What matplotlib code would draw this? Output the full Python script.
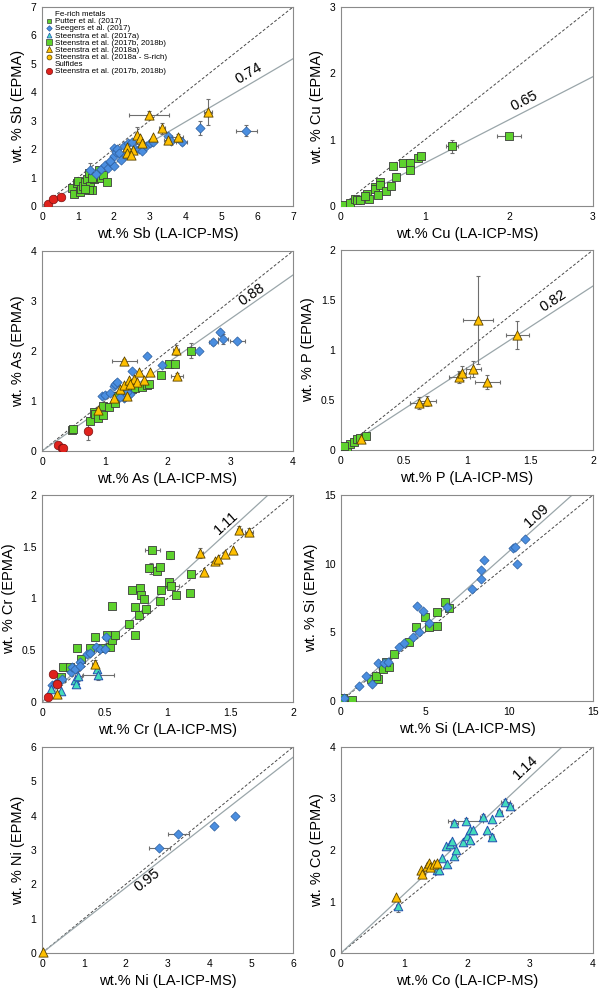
import numpy as np
import matplotlib.pyplot as plt
from matplotlib.lines import Line2D
from matplotlib.ticker import FuncFormatter

plt.rcParams['font.family'] = ['Liberation Sans', 'DejaVu Sans']

GREEN = '#5ed22d'
BLUE = '#4a8ee0'
TEAL = '#44dcbc'
ORANGE = '#ffc000'
RED = '#e0221c'

# ---- Sb ----
sb_red_x = [0.18, 0.32, 0.54]
sb_red_y = [0.07, 0.23, 0.33]
sb_green_x = [0.85, 0.88, 0.97, 1.0, 1.05, 1.1, 1.15, 1.2, 1.25, 1.3, 1.35, 1.4, 1.45,
              1.5, 1.6, 1.65, 1.7, 1.8, 1.3, 1.2, 1.4]
sb_green_y = [0.62, 0.42, 0.82, 0.88, 0.48, 0.6, 0.72, 0.85, 0.95, 1.15, 0.7, 0.58, 0.95,
              1.05, 1.25, 1.0, 1.1, 0.85, 0.55, 0.6, 1.0]
sb_blue_x = [1.35, 1.5, 1.65, 1.75, 1.85, 1.9, 2.0, 2.0, 2.05, 2.1, 2.15, 2.2, 2.3, 2.35,
             2.4, 2.5, 2.6, 2.7, 2.8, 2.9, 3.0, 3.1, 3.5, 3.6, 3.9, 4.4, 5.7, 2.0, 1.9]
sb_blue_y = [1.25, 1.12, 1.3, 1.45, 1.35, 1.55, 1.75, 2.05, 1.9, 2.0, 1.85, 1.62, 2.1, 1.8,
             2.2, 2.25, 2.0, 2.0, 1.95, 2.1, 2.2, 2.25, 2.45, 2.3, 2.25, 2.75, 2.65, 1.4, 1.6]
sb_orange_x = [2.98, 4.63, 3.35, 2.64, 2.72, 2.8, 3.1, 3.5, 3.78, 2.38, 2.55, 2.36, 2.47]
sb_orange_y = [3.2, 3.31, 2.73, 2.49, 2.4, 2.2, 2.41, 2.32, 2.43, 2.08, 1.97, 1.85, 1.8]
sb_err_x = [2.98, 4.63, 5.7, 4.4, 3.9, 2.64, 3.35, 3.78, 3.5, 1.35, 2.4, 3.0]
sb_err_y = [3.2, 3.31, 2.65, 2.75, 2.25, 2.49, 2.73, 2.43, 2.32, 1.25, 2.2, 2.2]
sb_err_xe = [0.55, 0.12, 0.3, 0.05, 0.15, 0.05, 0.08, 0.15, 0.1, 0.05, 0.05, 0.05]
sb_err_ye = [0.15, 0.45, 0.2, 0.25, 0.12, 0.3, 0.2, 0.12, 0.15, 0.25, 0.1, 0.1]

# ---- Cu ----
cu_green_x = [0.01, 0.03, 0.11, 0.17, 0.19, 0.23, 0.31, 0.33, 0.4, 0.41, 0.46, 0.47, 0.44,
              0.53, 0.59, 0.62, 0.66, 0.74, 0.82, 0.82, 0.92, 0.95, 1.32, 2.0, 0.29]
cu_green_y = [0.0, 0.01, 0.05, 0.1, 0.09, 0.09, 0.18, 0.11, 0.29, 0.25, 0.36, 0.31, 0.16,
              0.23, 0.3, 0.6, 0.44, 0.65, 0.65, 0.55, 0.73, 0.76, 0.9, 1.06, 0.15]
cu_err_x = [1.32, 2.0, 0.62, 0.66, 0.82]
cu_err_y = [0.9, 1.06, 0.6, 0.44, 0.65]
cu_err_xe = [0.07, 0.14, 0.02, 0.03, 0.02]
cu_err_ye = [0.1, 0.03, 0.04, 0.05, 0.06]

# ---- As ----
as_red_x = [0.26, 0.32, 0.34, 0.74]
as_red_y = [0.13, 0.07, 0.06, 0.4]
as_green_x = [0.48, 0.49, 0.77, 0.83, 0.85, 0.9, 0.97, 0.97, 1.06, 1.17, 1.2, 1.35, 1.43,
              1.48, 1.59, 1.67, 1.71, 1.89, 2.02, 2.12, 2.38]
as_green_y = [0.43, 0.44, 0.6, 0.79, 0.75, 0.67, 0.73, 0.9, 0.88, 0.97, 1.1, 1.17, 1.23,
              1.25, 1.27, 1.31, 1.33, 1.52, 1.74, 1.73, 2.0]
as_blue_x = [0.95, 1.0, 1.09, 1.14, 1.17, 1.2, 1.31, 1.4, 1.43, 1.68, 1.92, 2.5, 2.73, 2.84,
             2.88, 3.11, 1.25, 1.35]
as_blue_y = [1.09, 1.11, 1.17, 1.29, 1.34, 1.37, 1.05, 1.15, 1.6, 1.9, 1.72, 1.99, 2.17,
             2.37, 2.24, 2.2, 1.08, 1.19]
as_orange_x = [1.31, 2.14, 2.15, 0.89, 1.14, 1.36, 1.25, 1.31, 1.38, 1.46, 1.55, 1.51,
               1.63, 1.72, 1.4]
as_orange_y = [1.79, 2.02, 1.5, 0.83, 1.05, 1.1, 1.23, 1.31, 1.42, 1.44, 1.57, 1.39,
               1.42, 1.57, 1.33]
as_err_x = [1.31, 2.14, 2.15, 0.74, 2.38, 2.73, 2.88, 3.11, 2.84, 1.68]
as_err_y = [1.79, 2.02, 1.5, 0.4, 2.0, 2.17, 2.24, 2.2, 2.37, 1.9]
as_err_xe = [0.2, 0.05, 0.1, 0.02, 0.04, 0.07, 0.08, 0.12, 0.03, 0.02]
as_err_ye = [0.04, 0.1, 0.05, 0.18, 0.15, 0.06, 0.1, 0.04, 0.05, 0.03]

# ---- P ----
p_green_x = [0.01, 0.02, 0.05, 0.07, 0.1, 0.13, 0.15, 0.2, 0.02]
p_green_y = [0.01, 0.02, 0.03, 0.06, 0.08, 0.11, 0.12, 0.14, 0.04]
p_orange_x = [0.16, 0.62, 0.68, 0.94, 0.96, 1.05, 1.16, 1.09, 1.4]
p_orange_y = [0.11, 0.47, 0.49, 0.73, 0.77, 0.81, 0.68, 1.3, 1.15]
p_orange_xe = [0.02, 0.07, 0.07, 0.08, 0.03, 0.06, 0.1, 0.12, 0.09]
p_orange_ye = [0.02, 0.06, 0.05, 0.06, 0.07, 0.08, 0.07, 0.44, 0.14]

# ---- Cr ----
cr_red_x = [0.05, 0.09, 0.12]
cr_red_y = [0.05, 0.27, 0.17]
cr_green_x = [0.17, 0.22, 0.15, 0.28, 0.31, 0.38, 0.42, 0.48, 0.52, 0.54, 0.56, 0.58, 0.56,
              0.69, 0.72, 0.74, 0.74, 0.77, 0.78, 0.79, 0.81, 0.83, 0.85, 0.88, 0.92, 0.94,
              0.94, 0.95, 1.01, 1.02, 1.03, 1.07, 1.18, 1.19]
cr_green_y = [0.34, 0.34, 0.24, 0.52, 0.42, 0.52, 0.63, 0.52, 0.65, 0.53, 0.6, 0.65, 0.93,
              0.75, 1.08, 0.92, 0.65, 0.84, 1.1, 1.03, 1.0, 0.9, 1.29, 1.47, 1.27, 1.3,
              0.98, 1.08, 1.16, 1.42, 1.12, 1.03, 1.05, 1.24]
cr_blue_x = [0.08, 0.11, 0.16, 0.23, 0.24, 0.26, 0.3, 0.3, 0.36, 0.38, 0.43, 0.46, 0.5, 0.51]
cr_blue_y = [0.16, 0.18, 0.22, 0.29, 0.34, 0.32, 0.39, 0.35, 0.46, 0.47, 0.53, 0.51, 0.51, 0.63]
cr_teal_x = [0.15, 0.26, 0.27, 0.29, 0.44, 0.45, 0.07]
cr_teal_y = [0.11, 0.21, 0.17, 0.25, 0.32, 0.26, 0.13]
cr_orange_x = [0.12, 0.42, 1.26, 1.29, 1.38, 1.4, 1.46, 1.52, 1.57, 1.65]
cr_orange_y = [0.08, 0.37, 1.44, 1.26, 1.36, 1.38, 1.43, 1.47, 1.66, 1.64]
cr_err_x = [0.88, 0.45, 1.02, 1.26, 0.87, 1.57, 1.65, 0.42, 0.29, 1.04]
cr_err_y = [1.47, 0.26, 1.42, 1.44, 1.29, 1.66, 1.64, 0.37, 0.25, 1.12]
cr_err_xe = [0.06, 0.12, 0.02, 0.02, 0.03, 0.02, 0.03, 0.02, 0.03, 0.05]
cr_err_ye = [0.03, 0.05, 0.04, 0.05, 0.05, 0.04, 0.04, 0.04, 0.05, 0.03]

# ---- Si ----
si_green_x = [0.06, 0.65, 0.12, 1.78, 2.18, 2.1, 2.5, 2.83, 2.7, 3.13, 4.02, 4.48, 5.0, 5.21,
              5.7, 5.74, 6.2, 6.4]
si_green_y = [0.07, 0.07, 0.2, 1.58, 1.58, 1.82, 2.3, 2.45, 2.86, 3.42, 4.27, 5.41, 6.09,
              5.41, 5.48, 6.46, 7.23, 6.8]
si_blue_x = [0.2, 1.05, 1.5, 1.84, 2.2, 2.53, 2.77, 3.43, 3.76, 4.28, 4.55, 4.67, 4.91, 5.21,
             6.3, 7.78, 8.32, 8.32, 8.51, 10.26, 10.36, 10.46, 10.97]
si_blue_y = [0.19, 1.09, 1.82, 1.24, 2.79, 2.79, 2.86, 3.91, 4.25, 4.64, 6.92, 5.0, 6.55, 5.7,
             6.87, 8.13, 8.86, 9.54, 10.27, 11.12, 11.24, 9.95, 11.77]

# ---- Ni ----
ni_blue_x = [2.8, 3.26, 4.1, 4.61]
ni_blue_y = [3.06, 3.48, 3.71, 4.0]
ni_blue_xe = [0.25, 0.25, 0.03, 0.03]
ni_blue_ye = [0.05, 0.05, 0.03, 0.03]
ni_orange_x = [0.02]
ni_orange_y = [0.02]

# ---- Co ----
co_orange_x = [0.87, 1.27, 1.28, 1.36, 1.4, 1.42, 1.47, 1.52]
co_orange_y = [1.09, 1.61, 1.53, 1.69, 1.74, 1.67, 1.72, 1.74]
co_teal_x = [0.9, 1.52, 1.56, 1.61, 1.69, 1.66, 1.73, 1.76, 1.79, 1.83, 1.8, 1.94, 1.98, 2.0,
             2.04, 2.04, 2.09, 2.25, 2.32, 2.39, 2.39, 2.51, 2.61, 2.68]
co_teal_y = [0.92, 1.62, 1.61, 1.85, 1.72, 2.07, 2.12, 2.17, 1.88, 2.0, 2.52, 2.15, 2.57, 2.28,
             2.38, 2.2, 2.38, 2.64, 2.39, 2.26, 2.6, 2.73, 2.94, 2.86]
co_err_x = [1.8, 1.98, 2.61, 2.68, 2.39, 0.9, 2.25, 2.51]
co_err_y = [2.52, 2.57, 2.94, 2.86, 2.26, 0.92, 2.64, 2.73]
co_err_xe = [0.05, 0.28, 0.07, 0.05, 0.04, 0.03, 0.04, 0.04]
co_err_ye = [0.06, 0.05, 0.05, 0.05, 0.05, 0.12, 0.05, 0.05]

elements = ['Sb', 'Cu', 'As', 'P', 'Cr', 'Si', 'Ni', 'Co']
limits = [7, 3, 4, 2, 2, 15, 6, 4]
steps = [1, 1, 1, 0.5, 0.5, 5, 1, 1]
slopes = [0.74, 0.65, 0.88, 0.82, 1.11, 1.09, 0.95, 1.14]
slope_lbl_x = [5.75, 2.18, 3.34, 1.68, 1.47, 11.64, 2.52, 2.93]
slope_lbl_y = [4.66, 1.59, 3.13, 1.49, 1.73, 13.54, 2.13, 3.61]

sq = dict(marker='s', s=34, c=GREEN, edgecolors='#3c3c3c', linewidths=0.6, zorder=3)
dm = dict(marker='D', s=22, c=BLUE, edgecolors='#2c5e9e', linewidths=0.5, zorder=4)
tt = dict(marker='^', s=38, c=TEAL, edgecolors='#2450b0', linewidths=0.7, zorder=5)
ot = dict(marker='^', s=44, c=ORANGE, edgecolors='#5a4200', linewidths=0.6, zorder=6)
rc = dict(marker='o', s=38, c=RED, edgecolors='#7a1010', linewidths=0.5, zorder=7)

positions = [
    [42 / 600, 1 - 206 / 992, 251 / 600, 199 / 992],
    [341 / 600, 1 - 206 / 992, 252 / 600, 199 / 992],
    [42 / 600, 1 - 451 / 992, 251 / 600, 200 / 992],
    [341 / 600, 1 - 450 / 992, 252 / 600, 200 / 992],
    [42 / 600, 1 - 702 / 992, 251 / 600, 207 / 992],
    [341 / 600, 1 - 701 / 992, 252 / 600, 206 / 992],
    [42 / 600, 1 - 953 / 992, 251 / 600, 206 / 992],
    [341 / 600, 1 - 953 / 992, 252 / 600, 206 / 992],
]

fig = plt.figure(figsize=(6, 9.92), dpi=100)
axes = [fig.add_axes(p) for p in positions]


def errs(ax, x, y, xe, ye):
    ax.errorbar(x, y, xerr=xe, yerr=ye, fmt='none', ecolor='#6e6e6e',
                elinewidth=0.8, capsize=1.5, capthick=0.8, zorder=2)


def setup(ax, i):
    el = elements[i]
    lim = limits[i]
    ax.set_xlim(0, lim)
    ax.set_ylim(0, lim)
    ticks = np.arange(0, lim + steps[i] / 2, steps[i])
    ax.set_xticks(ticks)
    ax.set_yticks(ticks)
    fmt = FuncFormatter(lambda v, p: '{:g}'.format(v))
    ax.xaxis.set_major_formatter(fmt)
    ax.yaxis.set_major_formatter(fmt)
    ax.tick_params(length=0, labelsize=7.5, pad=4)
    for s in ax.spines.values():
        s.set_color('#8a8a8a')
        s.set_linewidth(0.8)
    ax.set_xlabel(f'wt.% {el} (LA-ICP-MS)', fontsize=10.5, labelpad=4)
    ax.set_ylabel(f'wt. % {el} (EPMA)', fontsize=10.5, labelpad=4)
    ax.plot([0, lim], [0, lim], color='#4a4a4a', lw=0.7, ls=(0, (3, 2)), zorder=1)
    xs = np.array([0, lim])
    ax.plot(xs, slopes[i] * xs, color='#9aa6aa', lw=0.9, zorder=1)
    ang = np.degrees(np.arctan(slopes[i]))
    ax.text(slope_lbl_x[i], slope_lbl_y[i], f'{slopes[i]:.2f}', fontsize=10.5,
            rotation=ang, transform_rotates_text=True, rotation_mode='anchor',
            ha='center', va='center', zorder=8)


for i, ax in enumerate(axes):
    setup(ax, i)

# Sb
ax = axes[0]
errs(ax, sb_err_x, sb_err_y, sb_err_xe, sb_err_ye)
ax.scatter(sb_blue_x, sb_blue_y, **dm)
ax.scatter(sb_green_x, sb_green_y, **sq)
ax.scatter(sb_orange_x, sb_orange_y, **ot)
ax.scatter(sb_red_x, sb_red_y, **rc)

handles = [
    Line2D([], [], ls='none', label='Fe-rich metals'),
    Line2D([], [], ls='none', marker='s', ms=3.5, mfc=GREEN, mec='#3c3c3c', mew=0.5, label='Putter et al. (2017)'),
    Line2D([], [], ls='none', marker='D', ms=2.8, mfc=BLUE, mec='#2c5e9e', mew=0.5, label='Seegers et al. (2017)'),
    Line2D([], [], ls='none', marker='^', ms=3.5, mfc=TEAL, mec='#2450b0', mew=0.5, label='Steenstra et al. (2017a)'),
    Line2D([], [], ls='none', marker='s', ms=4.5, mfc=GREEN, mec='#3c3c3c', mew=0.5, label='Steenstra et al. (2017b, 2018b)'),
    Line2D([], [], ls='none', marker='^', ms=4.5, mfc=ORANGE, mec='#5a4200', mew=0.5, label='Steenstra et al. (2018a)'),
    Line2D([], [], ls='none', marker='o', ms=3.5, mfc=ORANGE, mec='#5a4200', mew=0.5, label='Steenstra et al. (2018a - S-rich)'),
    Line2D([], [], ls='none', label='Sulfides'),
    Line2D([], [], ls='none', marker='o', ms=4.5, mfc=RED, mec='#7a1010', mew=0.5, label='Steenstra et al. (2017b, 2018b)'),
]
ax.legend(handles=handles, loc='upper left', bbox_to_anchor=(0.0, 1.0), frameon=False,
          fontsize=5.8, handlelength=0.8, handletextpad=0.3, labelspacing=0.0,
          handleheight=0.5, borderaxespad=0.3, borderpad=0.2)

# Cu
ax = axes[1]
errs(ax, cu_err_x, cu_err_y, cu_err_xe, cu_err_ye)
ax.scatter(cu_green_x, cu_green_y, **sq)

# As
ax = axes[2]
errs(ax, as_err_x, as_err_y, as_err_xe, as_err_ye)
ax.scatter(as_blue_x, as_blue_y, **dm)
ax.scatter(as_green_x, as_green_y, **sq)
ax.scatter(as_orange_x, as_orange_y, **ot)
ax.scatter(as_red_x, as_red_y, **rc)

# P
ax = axes[3]
errs(ax, p_orange_x, p_orange_y, p_orange_xe, p_orange_ye)
ax.scatter(p_green_x, p_green_y, **sq)
ax.scatter(p_orange_x, p_orange_y, **ot)

# Cr
ax = axes[4]
errs(ax, cr_err_x, cr_err_y, cr_err_xe, cr_err_ye)
ax.scatter(cr_green_x, cr_green_y, **sq)
ax.scatter(cr_blue_x, cr_blue_y, **dm)
ax.scatter(cr_teal_x, cr_teal_y, **tt)
ax.scatter(cr_orange_x, cr_orange_y, **ot)
ax.scatter(cr_red_x, cr_red_y, **rc)

# Si
ax = axes[5]
ax.scatter(si_green_x, si_green_y, **sq)
ax.scatter(si_blue_x, si_blue_y, **dm)

# Ni
ax = axes[6]
errs(ax, ni_blue_x, ni_blue_y, ni_blue_xe, ni_blue_ye)
ax.scatter(ni_blue_x, ni_blue_y, **dm)
ax.scatter(ni_orange_x, ni_orange_y, clip_on=False, **ot)

# Co
ax = axes[7]
errs(ax, co_err_x, co_err_y, co_err_xe, co_err_ye)
ax.scatter(co_teal_x, co_teal_y, **tt)
ax.scatter(co_orange_x, co_orange_y, **ot)

fig.savefig('out.png', dpi=100)
